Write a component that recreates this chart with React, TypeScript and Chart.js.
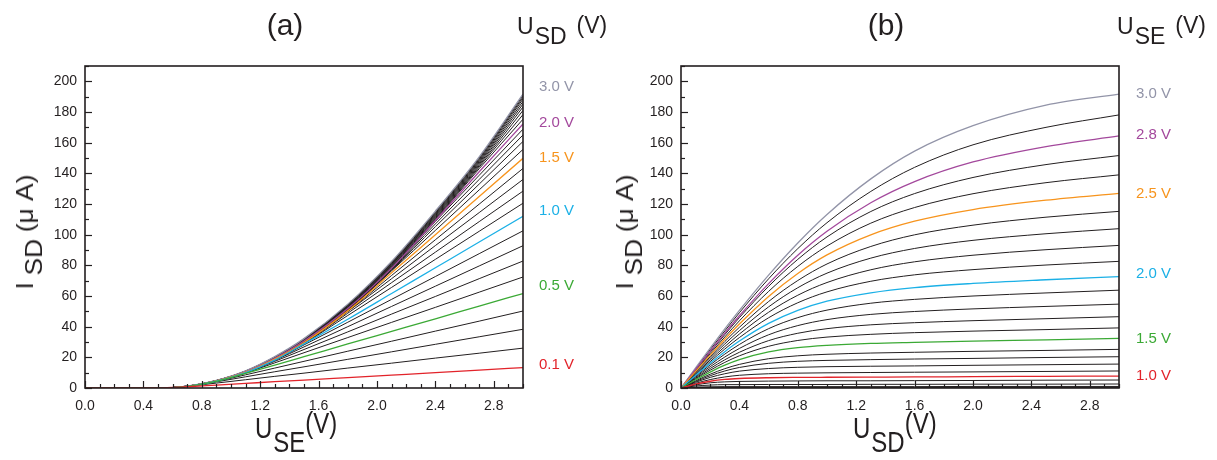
import React, { useEffect, useRef } from "react";
import { Chart, registerables } from "chart.js";

Chart.register(...registerables);

const FONT = '"Liberation Sans", Arial, Helvetica, sans-serif';
const INK = "#231f20";

const RED = "#e2232a";
const GREEN = "#3ba935";
const BLUE = "#1bb0e6";
const ORANGE = "#f7941d";
const PURPLE = "#a3489c";
const GRAY = "#9294a8";

// ---------- panel (a): I_SD vs U_SE, one curve per U_SD ----------
const U_SE_GRID_A = [0, 0.5, 0.7, 0.9, 1.1, 1.3, 1.5, 1.8, 2.1, 2.4, 2.7, 3.0];
const U_SD_CURVES_A = [
  0.1, 0.2, 0.3, 0.4, 0.5, 0.6, 0.7, 0.8, 0.9, 1.0,
  1.1, 1.2, 1.3, 1.4, 1.5, 1.6, 1.7, 1.8, 1.9, 2.0,
  2.1, 2.2, 2.3, 2.4, 2.5, 2.6, 2.7, 2.8, 2.9, 3.0,
];
const I_SD_A = [
  [0, 0, 0.8, 1.9, 3.0, 4.1, 5.2, 6.8, 8.4, 10.0, 11.7, 13.3],
  [0, 0, 1.1, 3.2, 5.4, 7.6, 9.7, 13.0, 16.2, 19.5, 22.7, 26.0],
  [0, 0, 1.1, 4.0, 7.3, 10.6, 13.8, 18.7, 23.6, 28.5, 33.4, 38.3],
  [0, 0, 1.1, 4.3, 8.6, 13.0, 17.4, 24.0, 30.5, 37.1, 43.6, 50.2],
  [0, 0, 1.1, 4.3, 9.5, 14.9, 20.4, 28.7, 36.9, 45.1, 53.4, 61.6],
  [0, 0, 1.1, 4.3, 9.8, 16.4, 23.0, 32.9, 42.8, 52.6, 62.5, 72.4],
  [0, 0, 1.1, 4.4, 9.8, 17.4, 25.1, 36.6, 48.2, 59.7, 71.3, 82.8],
  [0, 0, 1.1, 4.4, 9.9, 18.0, 26.8, 40.0, 53.2, 66.4, 79.6, 92.8],
  [0, 0, 1.1, 4.4, 9.9, 18.1, 28.1, 42.9, 57.8, 72.7, 87.6, 102.5],
  [0, 0, 1.1, 4.4, 10.0, 18.2, 28.8, 44.8, 61.6, 78.4, 95.2, 112.0],
  [0, 0, 1.1, 4.5, 10.0, 18.3, 29.0, 47.3, 65.6, 83.9, 102.2, 120.5],
  [0, 0, 1.1, 4.5, 10.1, 18.4, 29.1, 48.8, 68.7, 88.6, 108.5, 128.4],
  [0, 0, 1.1, 4.5, 10.2, 18.6, 29.3, 49.8, 71.3, 92.9, 114.4, 136.0],
  [0, 0, 1.1, 4.5, 10.2, 18.7, 29.5, 50.0, 73.4, 96.7, 119.9, 143.2],
  [0, 0, 1.1, 4.6, 10.3, 18.8, 29.6, 50.3, 75.1, 100.0, 124.9, 149.8],
  [0, 0, 1.1, 4.6, 10.3, 19.0, 29.8, 50.6, 76.4, 102.8, 129.2, 155.6],
  [0, 0, 1.2, 4.6, 10.4, 19.1, 30.1, 50.9, 76.8, 105.2, 133.0, 160.8],
  [0, 0, 1.2, 4.6, 10.5, 19.2, 30.2, 51.3, 77.3, 107.0, 136.0, 165.0],
  [0, 0, 1.2, 4.7, 10.5, 19.3, 30.4, 51.5, 77.7, 108.6, 138.7, 168.8],
  [0, 0, 1.2, 4.7, 10.6, 19.4, 30.6, 51.8, 78.2, 109.2, 141.0, 172.2],
  [0, 0, 1.2, 4.7, 10.6, 19.5, 30.7, 52.1, 78.6, 109.8, 143.0, 175.3],
  [0, 0, 1.2, 4.8, 10.7, 19.6, 30.9, 52.4, 79.0, 110.4, 144.1, 178.3],
  [0, 0, 1.2, 4.8, 10.8, 19.7, 31.1, 52.7, 79.5, 111.0, 145.0, 181.0],
  [0, 0, 1.2, 4.8, 10.8, 19.8, 31.2, 52.9, 80.0, 111.7, 145.9, 183.3],
  [0, 0, 1.2, 4.8, 10.9, 19.9, 31.4, 53.2, 80.4, 112.3, 146.8, 185.2],
  [0, 0, 1.2, 4.9, 10.9, 20.0, 31.6, 53.6, 80.8, 112.9, 147.6, 186.9],
  [0, 0, 1.2, 4.9, 11.0, 20.1, 31.7, 53.9, 81.2, 113.5, 148.4, 188.5],
  [0, 0, 1.2, 4.9, 11.0, 20.2, 31.9, 54.2, 81.6, 114.1, 149.2, 189.7],
  [0, 0, 1.2, 4.9, 11.1, 20.3, 32.1, 54.4, 82.2, 114.7, 150.0, 190.8],
  [0, 0, 1.2, 5.0, 11.2, 20.5, 32.2, 54.7, 82.6, 115.4, 150.8, 191.7],
];
const HIGHLIGHT_A: Record<string, string> = {
  "0.1": RED, "0.5": GREEN, "1.0": BLUE, "1.5": ORANGE, "2.0": PURPLE, "3.0": GRAY,
};
const LABEL_TEXT_A = ["3.0 V", "2.0 V", "1.5 V", "1.0 V", "0.5 V", "0.1 V"];
const LABEL_COLOR_A = [GRAY, PURPLE, ORANGE, BLUE, GREEN, RED];

// ---------- panel (b): I_SD vs U_SD, one curve per U_SE ----------
const U_SD_GRID_B = [0, 0.1, 0.2, 0.3, 0.4, 0.6, 0.8, 1.0, 1.3, 1.6, 2.0, 2.5, 3.0];
const U_SE_CURVES_B = [
  0.6, 0.7, 0.8, 0.9, 1.0, 1.1, 1.2, 1.3, 1.4, 1.5, 1.6, 1.7, 1.8,
  1.9, 2.0, 2.1, 2.2, 2.3, 2.4, 2.5, 2.6, 2.7, 2.8, 2.9, 3.0,
];
const I_SD_B = [
  [0, 0.3, 0.3, 0.3, 0.3, 0.3, 0.3, 0.3, 0.3, 0.3, 0.3, 0.3, 0.3],
  [0, 0.6, 0.8, 0.9, 0.9, 0.9, 0.9, 0.9, 0.9, 0.9, 1.0, 1.0, 1.0],
  [0, 1.3, 1.9, 2.2, 2.2, 2.3, 2.3, 2.3, 2.4, 2.4, 2.5, 2.5, 2.6],
  [0, 2.0, 3.4, 4.0, 4.3, 4.5, 4.6, 4.7, 4.7, 4.8, 4.9, 5.1, 5.2],
  [0, 2.5, 4.4, 5.6, 6.2, 6.7, 6.9, 7.0, 7.1, 7.2, 7.4, 7.6, 7.8],
  [0, 3.0, 5.5, 7.2, 8.3, 9.3, 9.7, 9.9, 10.1, 10.3, 10.5, 10.8, 11.1],
  [0, 3.7, 6.9, 9.3, 11.0, 12.7, 13.5, 13.9, 14.2, 14.4, 14.8, 15.2, 15.6],
  [0, 4.2, 8.0, 11.1, 13.4, 16.1, 17.4, 18.0, 18.5, 18.9, 19.3, 19.9, 20.4],
  [0, 4.7, 9.0, 12.6, 15.4, 19.1, 21.0, 22.0, 22.8, 23.3, 23.9, 24.5, 25.2],
  [0, 5.4, 10.4, 14.9, 18.5, 23.5, 26.3, 27.8, 29.1, 29.8, 30.6, 31.4, 32.3],
  [0, 6.0, 11.6, 16.7, 21.0, 27.2, 31.0, 33.2, 35.0, 36.1, 37.1, 38.1, 39.2],
  [0, 6.5, 12.7, 18.4, 23.3, 30.9, 35.7, 38.7, 41.2, 42.6, 43.9, 45.2, 46.5],
  [0, 7.1, 13.9, 20.2, 25.8, 34.7, 40.7, 44.6, 48.0, 49.9, 51.6, 53.2, 54.7],
  [0, 7.7, 15.1, 22.1, 28.4, 38.7, 45.9, 50.8, 55.3, 57.8, 60.0, 62.0, 63.8],
  [0, 8.2, 16.1, 23.7, 30.6, 42.1, 50.6, 56.6, 62.1, 65.5, 68.2, 70.6, 72.7],
  [0, 8.7, 17.2, 25.4, 32.9, 45.8, 55.6, 62.7, 69.6, 73.8, 77.2, 80.2, 82.6],
  [0, 9.2, 18.3, 27.0, 35.2, 49.4, 60.5, 68.8, 77.1, 82.3, 86.6, 90.2, 93.0],
  [0, 9.8, 19.4, 28.7, 37.4, 52.9, 65.4, 74.9, 84.7, 91.0, 96.3, 100.6, 103.9],
  [0, 10.3, 20.4, 30.3, 39.6, 56.4, 70.1, 80.9, 92.3, 99.9, 106.2, 111.4, 115.2],
  [0, 10.8, 21.4, 31.8, 41.7, 59.7, 74.7, 86.8, 99.9, 108.8, 116.4, 122.5, 126.9],
  [0, 11.2, 22.4, 33.3, 43.8, 63.0, 79.3, 92.6, 107.5, 117.7, 126.7, 133.9, 139.0],
  [0, 11.7, 23.4, 34.8, 45.9, 66.3, 83.9, 98.5, 115.1, 126.8, 137.3, 145.7, 151.6],
  [0, 12.1, 24.0, 35.8, 47.1, 68.1, 86.6, 102.2, 120.8, 134.6, 147.4, 157.4, 164.4],
  [0, 12.6, 25.0, 37.2, 49.1, 71.2, 90.9, 107.8, 128.2, 143.9, 158.6, 170.0, 178.1],
  [0, 13.1, 26.0, 38.6, 50.6, 73.6, 94.6, 113.2, 136.4, 154.5, 171.1, 184.5, 191.7],
];
const HIGHLIGHT_B: Record<string, string> = {
  "1.0": RED, "1.5": GREEN, "2.0": BLUE, "2.5": ORANGE, "2.8": PURPLE, "3.0": GRAY,
};
const LABEL_TEXT_B = ["3.0 V", "2.8 V", "2.5 V", "2.0 V", "1.5 V", "1.0 V"];
const LABEL_COLOR_B = [GRAY, PURPLE, ORANGE, BLUE, GREEN, RED];

// ---------- axes ----------
const X_TICKS = [0, 0.4, 0.8, 1.2, 1.6, 2.0, 2.4, 2.8];
const Y_TICKS = [0, 20, 40, 60, 80, 100, 120, 140, 160, 180, 200];
const X_MIN = 0, X_MAX = 3.0, Y_MIN = 0, Y_MAX = 210;
const X_MINOR_STEP = 0.1, Y_MINOR_STEP = 10;

const framePlugin = {
  id: "frame",
  afterDatasetsDraw(chart: any) {
    const { ctx, chartArea: a, scales } = chart;
    ctx.save();
    ctx.strokeStyle = INK;
    ctx.lineWidth = 1.2;
    const nx = Math.round((X_MAX - X_MIN) / X_MINOR_STEP);
    for (let k = 0; k <= nx; k++) {
      const px = Math.round(scales.x.getPixelForValue(X_MIN + k * X_MINOR_STEP)) + 0.5;
      const len = k % 4 === 0 ? 7 : 4;
      ctx.beginPath();
      ctx.moveTo(px, a.bottom);
      ctx.lineTo(px, a.bottom - len);
      ctx.stroke();
    }
    const ny = Math.round((Y_MAX - Y_MIN) / Y_MINOR_STEP);
    for (let k = 0; k <= ny; k++) {
      const py = Math.round(scales.y.getPixelForValue(Y_MIN + k * Y_MINOR_STEP)) + 0.5;
      const len = k % 2 === 0 ? 7 : 4;
      ctx.beginPath();
      ctx.moveTo(a.left, py);
      ctx.lineTo(a.left + len, py);
      ctx.stroke();
    }
    ctx.lineWidth = 1.6;
    ctx.strokeRect(a.left, a.top, a.right - a.left, a.bottom - a.top);
    ctx.restore();
  },
};

const PLOT_TOP = 66;
const PLOT_BOTTOM = 388;
const H = 460;

type PanelProps = {
  xs: number[];
  params: number[];
  rows: number[][];
  highlight: Record<string, string>;
  left: number;
  width: number;
  plotLeft: number;
  plotRight: number;
};

function Panel({ xs, params, rows, highlight, left, width, plotLeft, plotRight }: PanelProps) {
  const ref = useRef<HTMLCanvasElement>(null);
  useEffect(() => {
    if (!ref.current) return;
    const datasets = rows.map((row, i) => {
      const c = highlight[params[i].toFixed(1)];
      return {
        label: params[i].toFixed(1) + " V",
        data: row.map((y, j) => ({ x: xs[j], y })),
        borderColor: c || INK,
        borderWidth: c ? 1.3 : 1,
        pointRadius: 0,
        pointHoverRadius: 0,
        fill: false,
        cubicInterpolationMode: "monotone" as const,
        order: c ? 0 : 1,
      };
    });
    const tickFont = { family: FONT, size: 14 };
    const chart = new Chart(ref.current, {
      type: "line",
      data: { datasets },
      options: {
        animation: false,
        responsive: false,
        devicePixelRatio: 1,
        layout: { padding: { left: 0, right: width - plotRight, top: PLOT_TOP, bottom: 0 } },
        plugins: { legend: { display: false }, tooltip: { enabled: false } },
        scales: {
          x: {
            type: "linear",
            min: X_MIN,
            max: X_MAX,
            grid: { display: false, drawTicks: false },
            border: { display: false },
            afterBuildTicks: (s: any) => {
              s.ticks = X_TICKS.map((v) => ({ value: v }));
            },
            afterFit: (s: any) => {
              s.height = H - PLOT_BOTTOM;
            },
            ticks: {
              callback: (v: any) => Number(v).toFixed(1),
              font: tickFont,
              color: INK,
              padding: 10,
              maxRotation: 0,
              autoSkip: false,
            },
          },
          y: {
            type: "linear",
            min: Y_MIN,
            max: Y_MAX,
            grid: { display: false, drawTicks: false },
            border: { display: false },
            afterBuildTicks: (s: any) => {
              s.ticks = Y_TICKS.map((v) => ({ value: v }));
            },
            afterFit: (s: any) => {
              s.width = plotLeft;
            },
            ticks: {
              callback: (v: any) => String(v),
              font: tickFont,
              color: INK,
              padding: 8,
              autoSkip: false,
            },
          },
        },
      } as any,
      plugins: [framePlugin],
    });
    return () => chart.destroy();
  }, []);
  return (
    <canvas
      ref={ref}
      width={width}
      height={H}
      style={{ position: "absolute", left, top: 0, width, height: H }}
    />
  );
}

const abs = (l: number, t: number, extra: React.CSSProperties = {}): React.CSSProperties => ({
  position: "absolute",
  left: l,
  top: t,
  whiteSpace: "nowrap",
  fontFamily: FONT,
  color: INK,
  lineHeight: 1,
  ...extra,
});

type SubProps = {
  main: string; sub: string; tail: string; left: number; top: number; size: number;
  subDrop: number; tailRise: number; gap: number; stretch?: number;
};

function SubLabel({ main, sub, tail, left, top, size, subDrop, tailRise, gap, stretch = 1 }: SubProps) {
  return (
    <div style={abs(left, top, { fontSize: size, transform: `scaleY(${stretch})`, transformOrigin: "left top" })}>
      {main}
      <span style={{ position: "relative", top: subDrop, marginLeft: 1 }}>{sub}</span>
      <span style={{ position: "relative", top: -tailRise, marginLeft: gap }}>{tail}</span>
    </div>
  );
}

function YTitle({ cx, cy }: { cx: number; cy: number }) {
  return (
    <div
      style={abs(cx, cy, {
        fontSize: 24,
        transform: "translate(-50%, -50%) rotate(-90deg) scaleX(1.1)",
      })}
    >
      I
      <span style={{ position: "relative", top: 9, marginLeft: 6 }}>SD</span>
      <span style={{ marginLeft: 6 }}>(μ A)</span>
    </div>
  );
}

function CurveLabels({ texts, colors, x, ys }: { texts: string[]; colors: string[]; x: number; ys: number[] }) {
  return (
    <>
      {texts.map((t, i) => (
        <div key={i} style={abs(x, ys[i] - 7.5, { fontSize: 15, color: colors[i] })}>
          {t}
        </div>
      ))}
    </>
  );
}

export default function App() {
  return (
    <div style={{ position: "absolute", left: 0, top: 0, width: 1217, height: H, background: "#fff", overflow: "hidden" }}>
      <Panel xs={U_SE_GRID_A} params={U_SD_CURVES_A} rows={I_SD_A} highlight={HIGHLIGHT_A} left={0} width={600} plotLeft={85} plotRight={523} />
      <Panel xs={U_SD_GRID_B} params={U_SE_CURVES_B} rows={I_SD_B} highlight={HIGHLIGHT_B} left={600} width={617} plotLeft={81} plotRight={519} />

      <div style={abs(285, 25, { fontSize: 30, transform: "translate(-50%, -50%)" })}>(a)</div>
      <div style={abs(886, 25, { fontSize: 30, transform: "translate(-50%, -50%)" })}>(b)</div>

      <SubLabel main="U" sub="SD" tail="(V)" left={517} top={15} size={23} subDrop={10} tailRise={1} gap={10} />
      <SubLabel main="U" sub="SE" tail="(V)" left={1117} top={15} size={23} subDrop={10} tailRise={1} gap={10} />

      <SubLabel main="U" sub="SE" tail="(V)" left={255} top={414} size={24} subDrop={12} tailRise={4} gap={0} stretch={1.2} />
      <SubLabel main="U" sub="SD" tail="(V)" left={853} top={414} size={24} subDrop={12} tailRise={4} gap={0} stretch={1.2} />

      <YTitle cx={25} cy={232} />
      <YTitle cx={625} cy={232} />

      <CurveLabels texts={LABEL_TEXT_A} colors={LABEL_COLOR_A} x={539} ys={[85, 121, 156, 209, 284, 363]} />
      <CurveLabels texts={LABEL_TEXT_B} colors={LABEL_COLOR_B} x={1136} ys={[92, 133, 192, 272, 337, 374]} />
    </div>
  );
}
